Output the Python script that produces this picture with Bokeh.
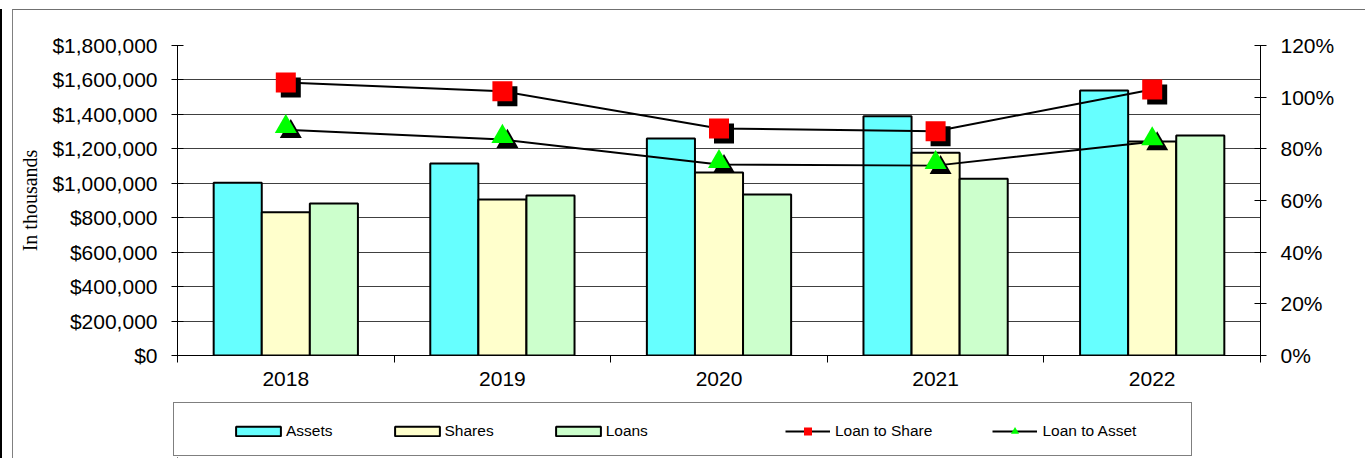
from bokeh.plotting import figure
from bokeh.layouts import column
from bokeh.models import (Range1d, LinearAxis, FixedTicker, NumeralTickFormatter,
                          Legend, LegendItem, ColumnDataSource)
from bokeh.transform import dodge
from bokeh.embed import file_html
from bokeh.resources import INLINE

# ---------------- data ----------------
years = ["2018", "2019", "2020", "2021", "2022"]
assets = [1003000, 1115000, 1260000, 1389000, 1539000]
shares = [832000, 906000, 1062000, 1177000, 1242000]
loans = [882000, 929000, 935000, 1026000, 1277000]
loan_to_share = [1.057, 1.023, 0.879, 0.868, 1.030]
loan_to_asset = [0.874, 0.836, 0.739, 0.735, 0.827]
left_ticks = [0, 200000, 400000, 600000, 800000, 1000000, 1200000, 1400000, 1600000, 1800000]
right_ticks = [0, 0.2, 0.4, 0.6, 0.8, 1.0, 1.2]

FONT = "Liberation Sans"
ASSET_C, SHARE_C, LOAN_C = "#66FFFF", "#FFFFCC", "#CCFFCC"
pos = [i + 0.5 for i in range(len(years))]
src = ColumnDataSource(dict(x=pos, year=years, assets=assets, shares=shares, loans=loans,
                            lts=loan_to_share, lta=loan_to_asset))

FW, FH = 1083, 310
BL, BT, BR, BB = 164, 35, 105, 45
TOTAL_W = BL + FW + BR

p = figure(frame_width=FW, frame_height=FH,
           x_range=Range1d(0, len(years)), y_range=Range1d(0, left_ticks[-1]),
           output_backend="svg", toolbar_location=None,
           min_border_left=BL, min_border_top=BT, min_border_right=BR, min_border_bottom=BB)
p.outline_line_color = None
p.background_fill_color = "white"
p.border_fill_color = "white"
p.extra_y_ranges = {"pct": Range1d(0, right_ticks[-1])}

# grid
p.xgrid.visible = False
left_ticker = FixedTicker(ticks=left_ticks, minor_ticks=[])
p.ygrid.ticker = left_ticker
p.ygrid.grid_line_color = "#404040"
p.ygrid.grid_line_width = 1

# left axis
ya = p.yaxis[0]
ya.ticker = left_ticker
ya.formatter = NumeralTickFormatter(format="$0,0")
ya.axis_line_color = "black"
ya.major_tick_out = 6
ya.major_tick_in = 6
ya.major_tick_line_color = "black"
ya.minor_tick_out = 0
ya.minor_tick_in = 0
ya.major_label_standoff = 14
ya.major_label_text_font = FONT
ya.major_label_text_font_size = "21px"
ya.major_label_text_color = "black"
ya.axis_label = "In thousands"
ya.axis_label_text_font = "Liberation Serif"
ya.axis_label_text_font_style = "normal"
ya.axis_label_text_font_size = "20px"
ya.axis_label_text_color = "black"
ya.axis_label_standoff = 8

# x axis
xa = p.xaxis[0]
xa.ticker = FixedTicker(ticks=pos, minor_ticks=list(range(len(years) + 1)))
xa.major_label_overrides = {x: y for x, y in zip(pos, years)}
xa.axis_line_color = "black"
xa.major_tick_out = 0
xa.major_tick_in = 0
xa.minor_tick_out = 7
xa.minor_tick_in = 0
xa.minor_tick_line_color = "black"
xa.major_label_standoff = 9
xa.major_label_text_font = FONT
xa.major_label_text_font_size = "21px"
xa.major_label_text_color = "black"

# right axis
ra = LinearAxis(y_range_name="pct", ticker=FixedTicker(ticks=right_ticks, minor_ticks=[]),
                formatter=NumeralTickFormatter(format="0%"))
ra.axis_line_color = "black"
ra.major_tick_out = 6
ra.major_tick_in = 6
ra.minor_tick_out = 0
ra.minor_tick_in = 0
ra.major_label_standoff = 14
ra.major_label_text_font = FONT
ra.major_label_text_font_size = "21px"
ra.major_label_text_color = "black"
p.add_layout(ra, "right")

# bars
BW = 0.222
bar_style = dict(width=BW, line_color="black", line_width=2, source=src)
p.vbar(x=dodge("x", -BW), top="assets", fill_color=ASSET_C, **bar_style)
p.vbar(x=dodge("x", 0), top="shares", fill_color=SHARE_C, **bar_style)
p.vbar(x=dodge("x", BW), top="loans", fill_color=LOAN_C, **bar_style)

# lines with shadowed markers
SX = 5.0 / FW * len(years)            # 5 px shadow offset in x
SY = 5.0 / FH * right_ticks[-1]       # 5 px shadow offset in y
TY = 3.0 / FH * right_ticks[-1]       # triangle centring
p.line(x="x", y="lts", y_range_name="pct", line_color="black", line_width=2, source=src)
p.line(x="x", y="lta", y_range_name="pct", line_color="black", line_width=2, source=src)
p.scatter(x=dodge("x", SX), y=dodge("lts", -SY), marker="square", size=20, fill_color="black",
          line_color=None, y_range_name="pct", source=src)
p.scatter(x="x", y="lts", marker="square", size=20, fill_color="#FF0000",
          line_color=None, y_range_name="pct", source=src)
p.scatter(x=dodge("x", SX), y=dodge("lta", TY - SY), marker="triangle", size=22, fill_color="black",
          line_color=None, y_range_name="pct", source=src)
p.scatter(x="x", y=dodge("lta", TY), marker="triangle", size=22, fill_color="#00FF00",
          line_color=None, y_range_name="pct", source=src)

# ---------------- legend strip ----------------
LH = 58
q = figure(frame_width=TOTAL_W, frame_height=LH, x_range=Range1d(0, 1), y_range=Range1d(0, 1),
           x_axis_type=None, y_axis_type=None, output_backend="svg", toolbar_location=None,
           min_border_left=0, min_border_right=0, min_border_top=0, min_border_bottom=0)
q.outline_line_color = None
q.xgrid.visible = False
q.ygrid.visible = False
q.background_fill_color = "white"
q.border_fill_color = "white"

# legend-only renderers: one point each, placed outside the visible range
OUT = [-10]
lg_a = q.vbar(x=OUT, top=OUT, width=1, fill_color=ASSET_C, line_color="black", line_width=2)
lg_s = q.vbar(x=OUT, top=OUT, width=1, fill_color=SHARE_C, line_color="black", line_width=2)
lg_l = q.vbar(x=OUT, top=OUT, width=1, fill_color=LOAN_C, line_color="black", line_width=2)
lg_l1 = q.line(x=OUT, y=OUT, line_color="black", line_width=2)
lg_m1 = q.scatter(x=OUT, y=OUT, marker="square", fill_color="#FF0000", line_color=None)
lg_l2 = q.line(x=OUT, y=OUT, line_color="black", line_width=2)
lg_m2 = q.scatter(x=OUT, y=OUT, marker="triangle", fill_color="#00FF00", line_color=None)
dummy = q.scatter(x=OUT, y=OUT, fill_alpha=0, line_alpha=0)

box = Legend(items=[LegendItem(label=" ", renderers=[dummy])], location=(160, 2),
             orientation="horizontal", padding=0, margin=0, spacing=0,
             glyph_width=1017, glyph_height=52, label_standoff=0, label_width=0,
             label_text_font_size="6px",
             border_line_color="black", border_line_width=1,
             background_fill_color="white", background_fill_alpha=1)
q.add_layout(box, "center")

leg_common = dict(orientation="horizontal", padding=0, margin=0,
                  label_text_font=FONT, label_text_font_size="15.5px", label_text_color="black",
                  border_line_color=None, background_fill_alpha=0)
bar_leg = Legend(items=[LegendItem(label="Assets", renderers=[lg_a]),
                        LegendItem(label="Shares", renderers=[lg_s]),
                        LegendItem(label="Loans", renderers=[lg_l])],
                 location=(217, 18), spacing=56, glyph_width=56, glyph_height=12,
                 label_standoff=0, **leg_common)
q.add_layout(bar_leg, "center")
line_leg = Legend(items=[LegendItem(label="Loan to Share", renderers=[lg_l1, lg_m1]),
                         LegendItem(label="Loan to Asset", renderers=[lg_l2, lg_m2])],
                  location=(772, 17), spacing=60, glyph_width=45, glyph_height=20,
                  label_standoff=5, **leg_common)
q.add_layout(line_leg, "center")

layout = column(p, q, spacing=0)
layout.styles = {"margin-left": "12px", "margin-top": "9px",
                 "border-left": "1px solid #808080", "border-top": "1px solid #707070",
                 "box-shadow": "-10px 0 0 0 white, -12px 0 0 0 black"}

open("out.html", "w").write(file_html(layout, INLINE))
